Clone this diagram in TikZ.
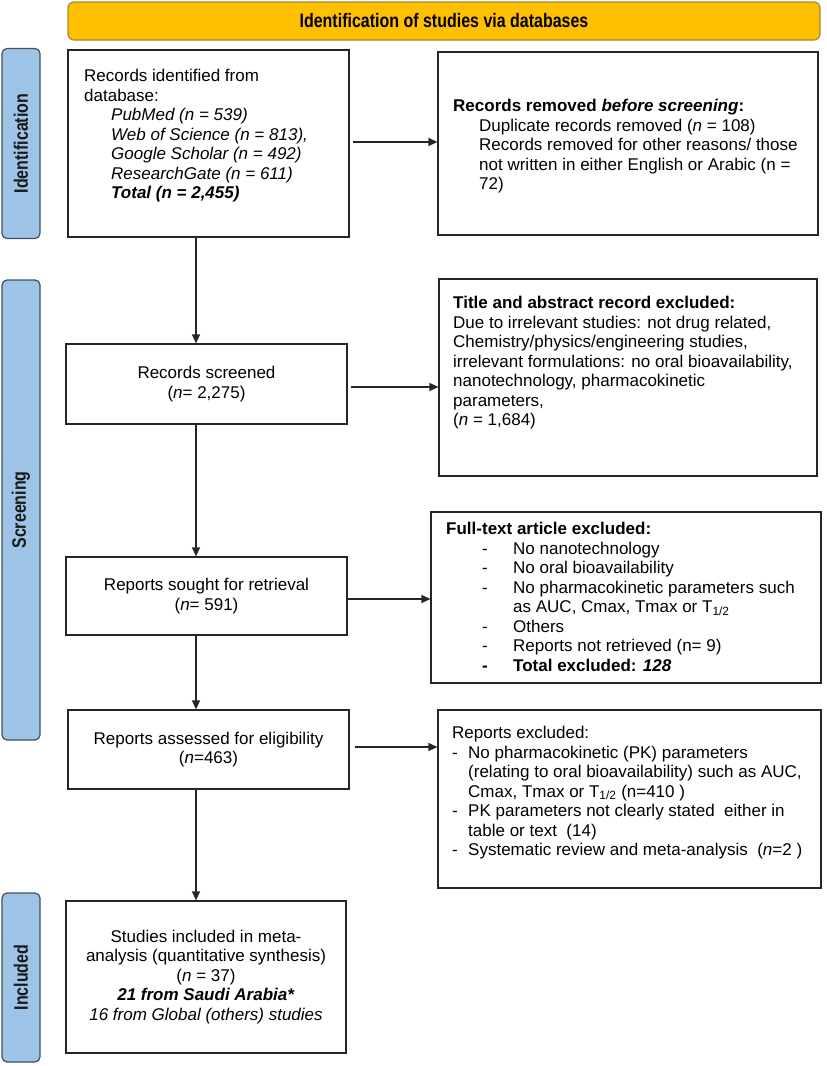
\documentclass[tikz,border=0pt]{standalone}
\usepackage{graphicx}
\usepackage{fontspec}
\setmainfont{Liberation Sans}
\usetikzlibrary{arrows.meta}
\definecolor{bannerfill}{HTML}{FFC000}
\definecolor{bannerdraw}{HTML}{A68A2E}
\definecolor{barfill}{HTML}{9DC3E6}
\definecolor{bardraw}{HTML}{44505C}
\definecolor{boxdraw}{HTML}{262626}
\newcommand{\bodyfont}{\fontsize{17}{19.5}\selectfont}
\newcommand{\headfont}{\fontsize{19.5}{22}\selectfont\bfseries}
\newcommand{\narrow}[1]{\scalebox{0.82}[1]{#1}}
\newcommand{\dashitem}[1]{\hspace*{36pt}\makebox[31pt][l]{-}#1}
\newcommand{\dashcont}[1]{\hspace*{67pt}#1}
\newcommand{\rdash}[1]{\makebox[16pt][l]{-}#1}
\newcommand{\rcont}[1]{\hspace*{16pt}#1}
\tikzset{
  box/.style={draw=boxdraw, line width=1.2pt, fill=white, inner sep=0pt},
  txt/.style={anchor=north west, inner sep=0pt, align=left, font=\bodyfont},
  cbox/.style={box, align=center, font=\bodyfont},
  arr/.style={draw=boxdraw, line width=1.2pt, -{Triangle[length=9pt,width=8pt]}},
  bar/.style={draw=bardraw, fill=barfill, line width=1.2pt, rounded corners=5pt,
    inner sep=0pt, rotate=90, font=\headfont, text=black!90},
}
\begin{document}
\begin{tikzpicture}[x=1pt,y=-1pt]
\useasboundingbox (0,0) rectangle (827,1066);

% banner
\node[draw=bannerdraw, fill=bannerfill, line width=1.2pt, rounded corners=6pt,
  minimum width=752pt, minimum height=38pt, inner sep=0pt, font=\headfont]
  (banner) at (444,21) {\narrow{Identification of studies via databases}};

% side bars
\node[bar, minimum width=190pt, minimum height=38pt] (identbar) at (21,143.5) {\narrow{Identification}};
\node[bar, minimum width=460pt, minimum height=38pt] (screenbar) at (21,510) {\narrow{Screening}};
\node[bar, minimum width=169pt, minimum height=38pt] (inclbar) at (21,977.5) {\narrow{Included}};

% left column
\node[box, minimum width=281pt, minimum height=187pt] (box1) at (208.5,143.5) {};
\node[txt] (box1txt) at (84,69) {Records identified from\\
database:\\
\hspace*{27pt}\textit{PubMed (n = 539)}\\
\hspace*{27pt}\textit{Web of Science (n = 813),}\\
\hspace*{27pt}\textit{Google Scholar (n = 492)}\\
\hspace*{27pt}\textit{ResearchGate (n = 611)}\\
\hspace*{27pt}\textbf{\textit{Total (n = 2,455)}}};

\node[cbox, minimum width=281pt, minimum height=80pt] (screened) at (206.5,384)
  {Records screened\\(\textit{n}= 2,275)};
\node[cbox, minimum width=281pt, minimum height=78pt] (sought) at (206.5,596)
  {Reports sought for retrieval\\(\textit{n}= 591)};
\node[cbox, minimum width=281pt, minimum height=79pt] (assessed) at (208.5,749.5)
  {Reports assessed for eligibility\\(\textit{n}=463)};
\node[cbox, minimum width=280pt, minimum height=152pt] (included) at (206,977)
  {Studies included in meta-\\analysis (quantitative synthesis)\\(\textit{n} = 37)\\
  \textbf{\textit{21 from Saudi Arabia*}}\\\textit{16 from Global (others) studies}};

% right column
\node[box, minimum width=380pt, minimum height=183pt] (box2) at (628,143.5) {};
\node[txt] (box2txt) at (453,99) {\textbf{Records removed \textit{before screening}:}\\
\hspace*{26pt}Duplicate records removed (\textit{n} = 108)\\
\hspace*{26pt}Records removed for other reasons/ those\\
\hspace*{26pt}not written in either English or Arabic (n =\\
\hspace*{26pt}72)};

\node[box, minimum width=378pt, minimum height=197pt] (title) at (628,377.5) {};
\node[txt] (titletxt) at (453,296) {\textbf{Title and abstract record excluded:}\\
Due to irrelevant studies: not drug related,\\
Chemistry/physics/engineering studies,\\
irrelevant formulations: no oral bioavailability,\\
nanotechnology, pharmacokinetic\\
parameters,\\
(\textit{n} = 1,684)};

\node[box, minimum width=390pt, minimum height=171pt] (fulltext) at (626,597.5) {};
\node[txt] (fulltexttxt) at (446,522) {\textbf{Full-text article excluded:}\\
\dashitem{No nanotechnology}\\
\dashitem{No oral bioavailability}\\
\dashitem{No pharmacokinetic parameters such}\\
\dashcont{as AUC, Cmax, Tmax or T\textsubscript{1/2}}\\
\dashitem{Others}\\
\dashitem{Reports not retrieved (n= 9)}\\
\hspace*{36pt}\makebox[31pt][l]{\textbf{-}}\textbf{Total excluded: \textit{128}}};

\node[box, minimum width=383pt, minimum height=178pt] (excluded) at (629.5,799) {};
\node[txt] (excludedtxt) at (452,726) {Reports excluded:\\
\rdash{No pharmacokinetic (PK) parameters}\\
\rcont{(relating to oral bioavailability) such as AUC,}\\
\rcont{Cmax, Tmax or T\textsubscript{1/2} (n=410 )}\\
\rdash{PK parameters not clearly stated\ \ either in}\\
\rcont{table or text\ \ (14)}\\
\rdash{Systematic review and meta-analysis\ \ (\textit{n}=2 )}};

% connectors
\coordinate (vx) at (196,0);
\coordinate (h1) at (0,142);
\coordinate (h2) at (0,387);
\coordinate (h3) at (0,599);
\coordinate (h4) at (0,747);
\draw[arr] (box1.south -| vx) -- (screened.north -| vx);
\draw[arr] (screened.south -| vx) -- (sought.north -| vx);
\draw[arr] (sought.south -| vx) -- (assessed.north -| vx);
\draw[arr] (assessed.south -| vx) -- (included.north -| vx);
\draw[arr, shorten <=3pt] (box1.east |- h1) -- (box2.west |- h1);
\draw[arr, shorten <=3pt] (screened.east |- h2) -- (title.west |- h2);
\draw[arr] (sought.east |- h3) -- (fulltext.west |- h3);
\draw[arr, shorten <=5pt] (assessed.east |- h4) -- (excluded.west |- h4);
\end{tikzpicture}
\end{document}
